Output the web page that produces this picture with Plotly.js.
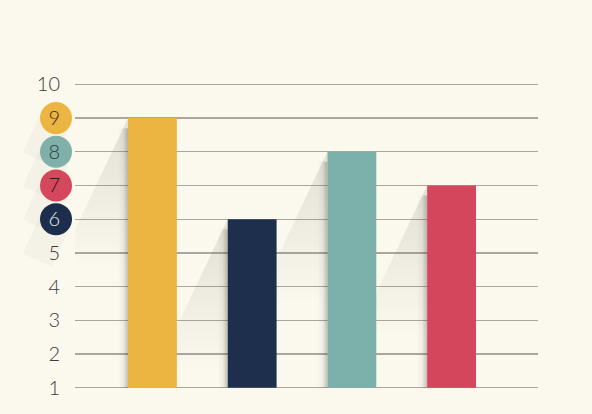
<!DOCTYPE html>
<html>
<head>
<meta charset="utf-8">
<script src="https://cdn.plot.ly/plotly-3.0.1.min.js"></script>
<style>
html,body{margin:0;padding:0;background:#fbf9ee;}
#chart{width:592px;height:414px;}
</style>
</head>
<body>
<div id="chart"></div>
<script>
// Data
var categories = ["A", "B", "C", "D"];
var values = [9, 6, 8, 7];
var barColors = ["#ecb440", "#1e2f4d", "#7cb0ab", "#d4465b"];
var tickVals = [1, 2, 3, 4, 5, 6, 7, 8, 9, 10];
var tickLabels = ["1", "2", "3", "4", "5", "6", "7", "8", "9", "10"];
var badgeValues = [9, 8, 7, 6];
var badgeColors = ["#ecb441", "#7fb0aa", "#d5475d", "#1d2e4c"];
var badgeTextColors = ["#3a3226", "#25403d", "#3a1a20", "#e8ecf2"];
var axisBase = 1;

var xIdx = categories.map(function (c, i) { return i; });
var barWidth = 0.49;
var traces = [];

// long shadows behind bars (main axes, drawn below the overlaid bar axes)
xIdx.forEach(function (i) {
  var L = i - barWidth / 2;
  var v = values[i];
  var k = 0.16;
  traces.push({
    type: "scatter", mode: "lines", hoverinfo: "skip", showlegend: false,
    x: [L, L - k * (v - axisBase), L, L],
    y: [v, axisBase, axisBase, v],
    fill: "toself", line: {width: 0, color: "rgba(0,0,0,0)"},
    fillcolor: "rgba(0,0,0,0.04)",
    fillgradient: {type: "vertical", start: Math.max(axisBase, v - 4.5), stop: v,
      colorscale: [[0, "rgba(120,115,100,0)"], [1, "rgba(120,115,100,0.19)"]]}
  });
  traces.push({
    type: "scatter", mode: "lines", hoverinfo: "skip", showlegend: false,
    x: [L - 0.1, L, L, L - 0.1, L - 0.1],
    y: [axisBase, axisBase, v - 0.3, v - 0.3, axisBase],
    fill: "toself", line: {width: 0, color: "rgba(0,0,0,0)"},
    fillcolor: "rgba(0,0,0,0.06)",
    fillgradient: {type: "horizontal", colorscale: [[0, "rgba(60,55,45,0)"], [0.5, "rgba(60,55,45,0.06)"], [1, "rgba(60,55,45,0.3)"]]}
  });
});

traces.push({
  type: "bar", x: xIdx, y: values.map(function (v) { return v - axisBase; }), base: axisBase,
  width: barWidth, xaxis: "x2", yaxis: "y2",
  marker: {color: barColors, line: {width: 0}},
  hoverinfo: "skip", showlegend: false
});

var ticktext = tickVals.map(function (t, j) {
  var b = badgeValues.indexOf(t);
  var col = b >= 0 ? badgeTextColors[b] : "#3b3b3b";
  return '<span style="color:' + col + '">' + tickLabels[j] + '</span>';
});

var shapes = [];
var badgeX = -0.041;
badgeValues.forEach(function (bv, j) {
  shapes.push({
    type: "path", layer: "below", xref: "paper", yref: "y",
    xsizemode: "pixel", ysizemode: "pixel", xanchor: badgeX, yanchor: bv,
    path: "M 14.6 -6.6 L -3.9 -47.6 L -33.1 -34.4 L -14.6 6.6 Z",
    fillcolor: "rgba(90,85,70,0.045)", line: {width: 0}
  });
});
badgeValues.forEach(function (bv, j) {
  shapes.push({
    type: "circle", layer: "below", xref: "paper", yref: "y",
    xsizemode: "pixel", ysizemode: "pixel", xanchor: badgeX, yanchor: bv,
    x0: -16, x1: 16, y0: -16, y1: 16,
    fillcolor: badgeColors[j], line: {width: 0}
  });
});

var xr = [-0.777, 3.867];
var yr = [0.9, 10.1];
var layout = {
  width: 592, height: 414,
  paper_bgcolor: "#fbf9ee", plot_bgcolor: "#fbf9ee",
  margin: {l: 75, r: 54, t: 81, b: 23, pad: 0},
  showlegend: false,
  xaxis: {
    range: xr, showgrid: false, zeroline: false,
    showticklabels: false, showline: false, fixedrange: true
  },
  yaxis: {
    range: yr, tickvals: tickVals, ticktext: ticktext,
    showgrid: true, gridcolor: "#aaa69d", gridwidth: 1.3,
    zeroline: false, showline: false, ticks: "",
    ticklabelstandoff: 14,
    tickfont: {family: "Lato, Roboto, sans-serif", size: 20, color: "#3b3b3b", weight: 300},
    fixedrange: true
  },
  xaxis2: {
    range: xr, overlaying: "x", anchor: "y2", showgrid: false, zeroline: false,
    showticklabels: false, showline: false, fixedrange: true
  },
  yaxis2: {
    range: yr, overlaying: "y", anchor: "x2", showgrid: false, zeroline: false,
    showticklabels: false, showline: false, ticks: "", fixedrange: true
  },
  shapes: shapes
};

Plotly.newPlot("chart", traces, layout, {displayModeBar: false, staticPlot: true});
</script>
</body>
</html>
